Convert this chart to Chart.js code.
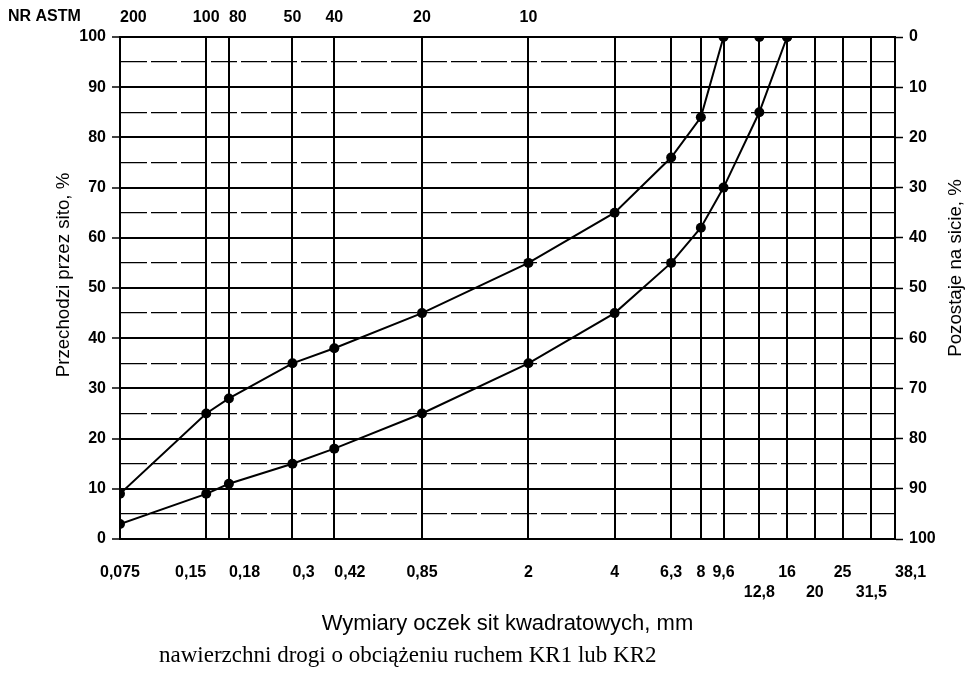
<!DOCTYPE html>
<html>
<head>
<meta charset="utf-8">
<script src="https://cdn.jsdelivr.net/npm/chart.js@4.4.1/dist/chart.umd.min.js"></script>
<style>
  html, body { margin: 0; padding: 0; background: #fff; }
  #wrap { position: relative; width: 972px; height: 680px; }
  #caption { position: absolute; left: 159px; top: 643px; font-family: "Liberation Serif", "Times New Roman", serif; font-size: 23px; line-height: 23px; color: #000; white-space: nowrap; }
</style>
</head>
<body>
<div id="wrap">
  <canvas id="c" width="972" height="680"></canvas>
  <div id="caption">nawierzchni drogi o obciążeniu ruchem KR1 lub KR2</div>
</div>
<script>
// Sieve sizes (mm) marked on the bottom axis
const sieveSizes = [0.075, 0.15, 0.18, 0.3, 0.42, 0.85, 2, 4, 6.3, 8, 9.6, 12.8, 16, 20, 25, 31.5, 38.1];
// Sizes whose labels sit on the second label row
const secondRowSizes = [12.8, 20, 31.5];
// ASTM sieve numbers on the top axis
const astmSizes = [0.075, 0.15, 0.18, 0.3, 0.42, 0.85, 2];
const astmNumbers = ['200', '100', '80', '50', '40', '20', '10'];
// Grading envelope: upper (fine) limit
const upperSizes = [0.075, 0.15, 0.18, 0.3, 0.42, 0.85, 2, 4, 6.3, 8, 9.6, 12.8, 16];
const upperPassing = [9, 25, 28, 35, 38, 45, 55, 65, 76, 84, 100, 100, 100];
// Grading envelope: lower (coarse) limit
const lowerSizes = [0.075, 0.15, 0.18, 0.3, 0.42, 0.85, 2, 4, 6.3, 8, 9.6, 12.8, 16];
const lowerPassing = [3, 9, 11, 15, 18, 25, 35, 45, 55, 62, 70, 85, 100];

const FONT = '"Liberation Sans", Arial, Helvetica, sans-serif';
Chart.defaults.font.family = FONT;
Chart.defaults.color = '#000';

function fmt(v) { return String(v).replace('.', ','); }
function isMajor(c) { return c.tick && c.tick.value % 10 === 0; }

// Text alignment of some tick labels relative to their grid line (style options)
const labelAlign = {
  x: { 0.15: 'right', 0.18: 'left', 0.3: 'left', 0.42: 'left', 38.1: 'left' },
  x2: { 0.075: 'left', 0.18: 'left' }
};

const labelAlignPlugin = {
  id: 'labelAlign',
  beforeDraw(chart) {
    Object.keys(labelAlign).forEach(id => {
      const sc = chart.scales[id];
      if (!sc) return;
      const items = sc.getLabelItems();
      items.forEach((it, i) => {
        const t = sc.ticks[i];
        if (t && labelAlign[id][t.value]) it.options.textAlign = labelAlign[id][t.value];
      });
    });
  }
};

const titlesPlugin = {
  id: 'extraTitles',
  afterDraw(chart) {
    const ctx = chart.ctx;
    ctx.save();
    ctx.fillStyle = '#000';
    ctx.textBaseline = 'middle';
    ctx.textAlign = 'left';
    ctx.font = 'bold 16px ' + FONT;
    ctx.fillText('NR ASTM', 8, 17);
    ctx.font = '18.7px ' + FONT;
    ctx.textAlign = 'center';
    ctx.save();
    ctx.translate(64, 275);
    ctx.rotate(-Math.PI / 2);
    ctx.fillText('Przechodzi przez sito, %', 0, 0);
    ctx.restore();
    ctx.save();
    ctx.translate(956, 268);
    ctx.rotate(-Math.PI / 2);
    ctx.fillText('Pozostaje na sicie, %', 0, 0);
    ctx.restore();
    ctx.restore();
  }
};

const lineStyle = {
  borderColor: '#000', backgroundColor: '#000', borderWidth: 2,
  pointRadius: 5, pointBackgroundColor: '#000', pointBorderColor: '#000',
  pointBorderWidth: 0, tension: 0, fill: false, xAxisID: 'x', yAxisID: 'y'
};

new Chart(document.getElementById('c'), {
  type: 'line',
  data: {
    datasets: [
      Object.assign({ label: 'upper', data: upperSizes.map((s, i) => ({ x: s, y: upperPassing[i] })) }, lineStyle),
      Object.assign({ label: 'lower', data: lowerSizes.map((s, i) => ({ x: s, y: lowerPassing[i] })) }, lineStyle)
    ]
  },
  options: {
    responsive: false,
    animation: false,
    devicePixelRatio: 1,
    layout: { padding: 0 },
    plugins: { legend: { display: false }, tooltip: { enabled: false } },
    scales: {
      x: {
        type: 'logarithmic', position: 'bottom', min: 0.075, max: 38.1,
        afterBuildTicks: s => { s.ticks = sieveSizes.map(v => ({ value: v })); },
        afterFit: s => { s.height = 141; },
        ticks: {
          autoSkip: false, maxRotation: 0, minRotation: 0, padding: 24, color: '#000',
          font: { size: 16, weight: 'bold', lineHeight: 1.25 },
          callback: v => secondRowSizes.includes(v) ? ['', fmt(v)] : fmt(v)
        },
        grid: { color: '#000', lineWidth: 2, drawTicks: false },
        border: { color: '#000', width: 2 },
        title: { display: true, text: 'Wymiary oczek sit kwadratowych, mm', color: '#000', font: { size: 22 }, padding: { top: 0, bottom: 43 } }
      },
      x2: {
        type: 'logarithmic', position: 'top', min: 0.075, max: 38.1,
        afterBuildTicks: s => { s.ticks = astmSizes.map(v => ({ value: v })); },
        afterFit: s => { s.height = 37; },
        ticks: {
          autoSkip: false, maxRotation: 0, minRotation: 0, padding: 10, color: '#000',
          font: { size: 16, weight: 'bold' },
          callback: v => astmNumbers[astmSizes.indexOf(v)]
        },
        grid: { drawOnChartArea: false, drawTicks: false },
        border: { color: '#000', width: 2 }
      },
      y: {
        type: 'linear', position: 'left', min: 0, max: 100,
        afterFit: s => { s.width = 120; },
        ticks: {
          stepSize: 5, padding: 6, color: '#000',
          font: { size: 16, weight: 'bold' },
          callback: v => (v % 10 === 0 ? String(v) : '')
        },
        grid: {
          color: '#000',
          lineWidth: c => (isMajor(c) ? 2 : 1.3),
          tickLength: 8,
          tickColor: c => (isMajor(c) ? '#000' : 'rgba(0,0,0,0)'),
          tickWidth: 1.5
        },
        border: { color: '#000', width: 2, dash: c => (c.tick && !isMajor(c) ? [26, 4] : []) }
      },
      y2: {
        type: 'linear', position: 'right', reverse: true, min: 0, max: 100,
        afterFit: s => { s.width = 77; },
        ticks: { stepSize: 10, padding: 6, color: '#000', font: { size: 16, weight: 'bold' } },
        grid: { drawOnChartArea: false, tickLength: 8, tickColor: '#000', tickWidth: 1.5 },
        border: { color: '#000', width: 2 }
      }
    }
  },
  plugins: [labelAlignPlugin, titlesPlugin]
});
</script>
</body>
</html>
